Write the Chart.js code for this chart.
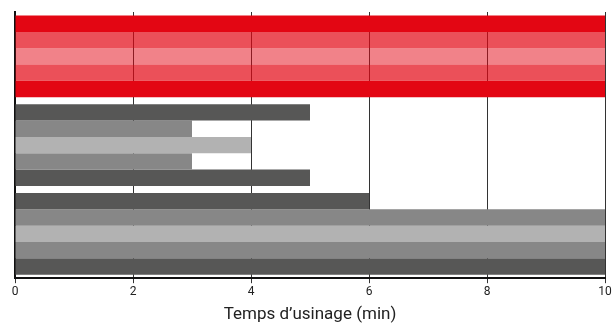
<!DOCTYPE html>
<html>
<head>
<meta charset="utf-8">
<script src="https://cdn.jsdelivr.net/npm/chart.js@4/dist/chart.umd.min.js"></script>
<style>
  html, body { margin: 0; padding: 0; background: #ffffff; }
  #wrap { width: 614px; height: 329px; position: relative; }
</style>
</head>
<body>
<div id="wrap"><canvas id="usinage"></canvas></div>
<script>
// Trois groupes de 5 barres (pas d'étiquettes sur l'axe vertical)
const groupes = ['Groupe 1', 'Groupe 2', 'Groupe 3'];
const barre1 = [10, 5, 6];
const barre2 = [10, 3, 10];
const barre3 = [10, 4, 10];
const barre4 = [10, 3, 10];
const barre5 = [10, 5, 10];
const xTicks = [0, 2, 4, 6, 8, 10];

// Rouge pour le premier groupe, gris pour les deux autres
const rouges = ['rgba(227,6,19,1)', 'rgba(227,6,19,0.7)', 'rgba(227,6,19,0.5)', 'rgba(227,6,19,0.7)', 'rgba(227,6,19,1)'];
const gris = ['#575756', '#878787', '#b2b2b2', '#878787', '#575756'];

const series = [barre1, barre2, barre3, barre4, barre5];

const datasets = series.map(function(vals, i) {
    return {
        label: 'Barre ' + (i + 1),
        data: vals,
        backgroundColor: [rouges[i], gris[i], gris[i]],
        borderWidth: 0,
        barPercentage: 1,
        categoryPercentage: 0.92
    };
});

const police = "Roboto, 'DejaVu Sans', sans-serif";

new Chart(document.getElementById('usinage'), {
    type: 'bar',
    data: { labels: groupes, datasets: datasets },
    options: {
        indexAxis: 'y',
        responsive: true,
        maintainAspectRatio: false,
        animation: false,
        layout: { padding: { left: 15, right: 9, top: 12, bottom: 4 } },
        plugins: {
            legend: { display: false },
            tooltip: { enabled: false }
        },
        scales: {
            x: {
                min: 0,
                max: 10,
                afterBuildTicks: function(axis) {
                    axis.ticks = xTicks.map(v => ({ value: v }));
                },
                grid: {
                    color: '#333333',
                    lineWidth: 1,
                    tickLength: 5
                },
                border: { color: '#111111', width: 2 },
                ticks: {
                    color: '#222222',
                    padding: 2,
                    font: { family: police, size: 12 }
                },
                title: {
                    display: true,
                    text: 'Temps d’usinage (min)',
                    color: '#222222',
                    padding: { top: 3, bottom: 0 },
                    font: { family: police, size: 17 }
                }
            },
            y: {
                ticks: { display: false },
                grid: { display: false, drawTicks: false },
                border: { color: '#111111', width: 2 }
            }
        }
    }
});
</script>
</body>
</html>
